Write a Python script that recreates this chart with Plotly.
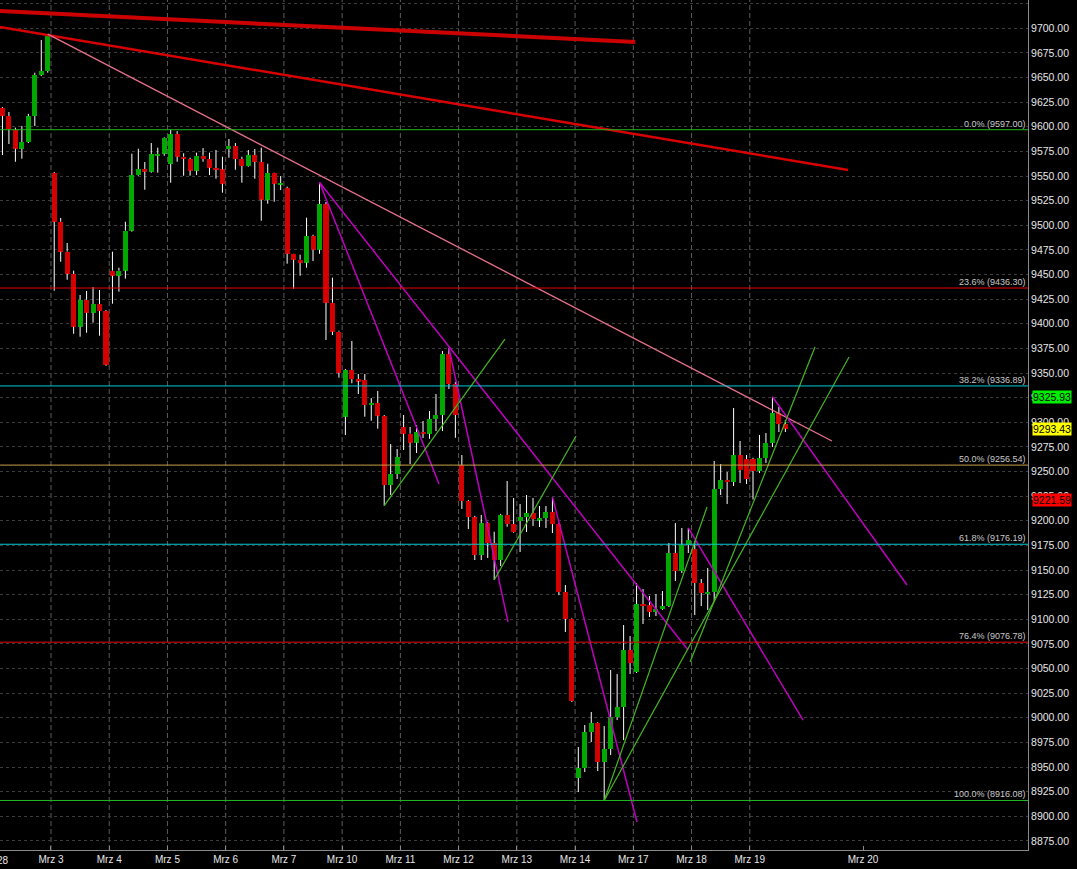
import plotly.graph_objects as go

# ---------------- data (hourly candles, index 1 = last visible candle of Feb 28) ----------------
opens = [9619.1, 9610.9, 9596.7, 9577.7, 9584.5, 9610.9, 9652.6, 9656.6,
         9553.1, 9503.6, 9473.2, 9450.5, 9397.0, 9424.4, 9411.2, 9420.1, 9413.0,
         9453.9, 9448.8, 9453.9, 9494.5, 9551.0, 9557.1, 9554.4, 9570.6, 9572.7,
         9562.5, 9592.7, 9569.6, 9567.3, 9555.4, 9570.6, 9567.3, 9558.1, 9556.8,
         9577.4, 9580.5, 9567.3, 9560.2, 9571.3, 9564.2, 9526.0, 9553.1, 9541.2,
         9537.8, 9471.1, 9465.1, 9462.0, 9489.1, 9475.2, 9521.6, 9421.4, 9392.0,
         9305.7, 9353.1, 9343.9, 9342.9, 9317.5, 9319.6, 9306.4, 9236.3, 9247.5,
         9295.2, 9288.4, 9279.3, 9290.1, 9288.4, 9303.3, 9307.4, 9369.3, 9338.9,
         9256.6, 9220.1, 9203.8, 9165.3, 9197.7, 9177.4, 9160.2, 9205.9, 9196.7,
         9199.8, 9203.8, 9207.9, 9200.8, 9202.8, 9208.9, 9196.7, 9127.7, 9100.3,
         8938.9, 8949.0, 8985.5, 8994.7, 8955.1, 8968.3, 9000.8, 9010.9, 9068.8,
         9046.5, 9115.5, 9114.5, 9107.4, 9110.4, 9113.5, 9167.3, 9149.0, 9175.4,
         9171.3, 9136.8, 9125.7, 9127.7, 9232.3, 9241.4, 9239.4, 9266.8, 9262.7,
         9262.7, 9250.5, 9263.7, 9279.0, 9309.4, 9298.2]
highs = [9620.1, 9615.0, 9599.1, 9600.8, 9613.0, 9654.9, 9688.1, 9694.0,
         9554.1, 9507.4, 9482.0, 9453.9, 9429.2, 9433.3, 9437.3, 9434.3, 9414.0,
         9473.2, 9456.9, 9503.6, 9572.7, 9577.7, 9564.2, 9583.5, 9578.8, 9589.6,
         9597.0, 9595.5, 9573.1, 9568.6, 9573.7, 9578.4, 9573.7, 9576.4, 9569.6,
         9587.6, 9583.5, 9569.6, 9576.4, 9577.4, 9578.8, 9562.5, 9553.4, 9550.0,
         9539.2, 9471.3, 9470.1, 9507.7, 9490.4, 9543.6, 9523.6, 9446.8, 9393.0,
         9354.1, 9382.5, 9349.0, 9349.0, 9324.6, 9331.8, 9307.4, 9277.9, 9272.9,
         9307.4, 9295.2, 9297.2, 9301.3, 9311.4, 9328.7, 9372.4, 9375.4, 9340.9,
         9266.8, 9221.0, 9205.0, 9205.9, 9198.5, 9188.9, 9207.0, 9240.4, 9223.1,
         9217.0, 9226.2, 9223.1, 9215.0, 9215.0, 9224.1, 9197.5, 9134.8, 9101.0,
         8970.3, 8992.7, 9005.9, 8995.5, 8991.6, 9048.5, 9044.4, 9094.2, 9083.0,
         9136.8, 9130.7, 9123.6, 9125.7, 9128.7, 9177.4, 9197.7, 9192.7, 9192.7,
         9179.5, 9140.9, 9152.1, 9260.7, 9257.6, 9249.5, 9314.5, 9281.0, 9266.8,
         9264.0, 9287.1, 9289.1, 9325.93, 9315.5, 9302.3]
lows = [9571.3, 9582.5, 9564.5, 9567.6, 9583.5, 9600.8, 9651.5, 9654.9,
        9433.6, 9463.0, 9444.7, 9389.9, 9386.9, 9390.9, 9401.1, 9387.9, 9357.4,
        9420.4, 9432.6, 9445.8, 9493.5, 9550.3, 9536.1, 9553.4, 9553.4, 9570.6,
        9543.2, 9564.5, 9550.3, 9550.3, 9551.0, 9564.5, 9551.0, 9547.3, 9533.1,
        9568.6, 9556.4, 9543.2, 9559.5, 9547.3, 9504.6, 9521.9, 9523.9, 9535.8,
        9461.0, 9435.6, 9448.8, 9456.9, 9463.7, 9471.1, 9383.5, 9388.6, 9345.3,
        9287.1, 9339.6, 9328.7, 9305.7, 9301.6, 9293.5, 9215.3, 9226.2, 9242.4,
        9271.9, 9257.6, 9268.8, 9284.0, 9283.3, 9291.1, 9291.1, 9333.8, 9284.3,
        9212.0, 9191.6, 9160.2, 9160.2, 9162.2, 9139.9, 9154.1, 9194.0, 9187.9,
        9168.3, 9188.6, 9194.7, 9193.7, 9192.7, 9187.6, 9124.6, 9087.1, 9016.0,
        8924.6, 8944.9, 8975.4, 8946.0, 8916.08, 8962.2, 8997.7, 8977.4, 9044.4,
        9045.5, 9095.2, 9102.3, 9103.3, 9109.4, 9112.5, 9138.9, 9147.0, 9167.3,
        9104.3, 9113.5, 9109.4, 9118.6, 9226.2, 9217.0, 9235.3, 9238.3, 9237.3,
        9221.59, 9248.5, 9258.7, 9274.9, 9290.1, 9290.1]
closes = [9611.2, 9597.7, 9577.7, 9584.5, 9610.9, 9652.6, 9656.6, 9692.2,
          9503.6, 9473.2, 9450.8, 9397.0, 9424.4, 9411.2, 9420.1, 9413.0, 9358.5,
          9448.8, 9453.9, 9494.5, 9551.0, 9557.1, 9554.4, 9572.4, 9572.4, 9588.9,
          9592.7, 9569.6, 9567.6, 9555.4, 9570.6, 9567.3, 9558.4, 9556.4, 9542.2,
          9580.5, 9567.3, 9560.2, 9571.3, 9564.5, 9526.0, 9553.1, 9542.2, 9542.9,
          9471.1, 9465.1, 9462.0, 9489.1, 9475.2, 9521.6, 9421.4, 9392.0, 9350.3,
          9353.1, 9343.9, 9341.9, 9317.5, 9319.6, 9306.7, 9236.3, 9247.5, 9264.7,
          9288.4, 9279.3, 9290.1, 9288.4, 9303.3, 9307.4, 9369.3, 9338.9, 9307.4,
          9220.1, 9203.8, 9165.3, 9197.7, 9177.4, 9160.2, 9205.9, 9196.7, 9188.6,
          9203.8, 9207.9, 9201.8, 9202.8, 9208.9, 9196.7, 9127.7, 9100.3, 9017.0,
          8949.0, 8985.5, 8994.7, 8955.1, 8968.3, 9000.8, 9010.9, 9068.8, 9055.6,
          9115.5, 9113.5, 9107.4, 9110.4, 9113.5, 9167.3, 9149.0, 9175.4, 9180.5,
          9136.8, 9126.7, 9127.7, 9232.3, 9241.4, 9239.4, 9266.8, 9251.5, 9242.4,
          9250.5, 9263.7, 9279.0, 9309.4, 9298.2, 9293.43]

candle_index = list(range(1, len(opens) + 1))
candles_per_day = 9

first_day_label = "Feb 28"
day_labels = ["Mrz 3", "Mrz 4", "Mrz 5", "Mrz 6", "Mrz 7", "Mrz 10", "Mrz 11",
              "Mrz 12", "Mrz 13", "Mrz 14", "Mrz 17", "Mrz 18", "Mrz 19"]
future_label = "Mrz 20"
future_label_pos = 134.0

fib_pct = [0.0, 23.6, 38.2, 50.0, 61.8, 76.4, 100.0]
fib_price = [9597.00, 9436.30, 9336.89, 9256.54, 9176.19, 9076.78, 8916.08]
fib_colors = ["#22b822", "#e80000", "#00c8d8", "#c8a048", "#00c8d8", "#e80000", "#22b822"]

# trendlines: (x0, y0, x1, y1) in candle index / price
thick_red = [(0, 9717.7, 98.8, 9686.1)]
red_lines = [(0, 9702.0, 131.7, 9556.1)]
pink_lines = [(8, 9694.0, 129.2, 9281.0)]
magenta_lines = [(50, 9543.6, 68.47, 9237.3),
                 (50, 9543.6, 106.96, 9068.8),
                 (70, 9375.4, 79.14, 9097.2),
                 (107, 9192.7, 124.73, 8997.7),
                 (86, 9224.1, 99.07, 8894.2),
                 (120, 9325.93, 140.8, 9134.8)]
green_lines = [(60, 9215.3, 78.67, 9384.5),
               (77, 9139.9, 89.65, 9286.1),
               (94, 8916.08, 109.89, 9214.0),
               (94, 8916.08, 131.84, 9366.3),
               (107.27, 9056.6, 126.58, 9376.4)]

price_tags = [(9325.93, "#00ee00"), (9293.43, "#ffff00"), (9221.59, "#ff0000")]

# ---------------- figure ----------------
FONT = "Liberation Sans, Arial, sans-serif"
UP, DOWN = "#00a800", "#d40000"
X_RANGE = [0.62, 159.5]
PLOT_W = 1077 - 49

fig = go.Figure()

# wicks (split so they do not cross the bodies)
wx, wy = [], []
for i, o, h, l, c in zip(candle_index, opens, highs, lows, closes):
    top, bot = max(o, c), min(o, c)
    wx += [i, i, None, i, i, None]
    wy += [h, top, None, bot, l, None]
fig.add_trace(go.Scatter(x=wx, y=wy, mode="lines",
                         line=dict(color="#ffffff", width=1), hoverinfo="skip"))

# bodies
fig.add_trace(go.Bar(
    x=candle_index,
    base=[min(o, c) for o, c in zip(opens, closes)],
    y=[max(abs(c - o), 0.8) for o, c in zip(opens, closes)],
    width=0.78,
    marker=dict(color=[UP if c >= o else DOWN for o, c in zip(opens, closes)],
                line=dict(width=0)),
    hoverinfo="skip"))

def add_lines(lines, color, width):
    for x0, y0, x1, y1 in lines:
        fig.add_trace(go.Scatter(x=[x0, x1], y=[y0, y1], mode="lines",
                                 line=dict(color=color, width=width), hoverinfo="skip"))

add_lines(thick_red, "#cc0000", 4)
add_lines(red_lines, "#d80000", 2.5)
add_lines(pink_lines, "#e8708c", 1.3)
add_lines(magenta_lines, "#c000c0", 1.5)
add_lines(green_lines, "#44b820", 1.2)

# day boundaries (between the last candle of a day and the first of the next)
day_bounds = [(d + 1) * candles_per_day - 0.5 for d in range(len(day_labels))]
first_bound = -0.5

shapes = []
for xb in day_bounds:
    shapes.append(dict(type="line", xref="x", yref="paper", x0=xb, x1=xb, y0=0, y1=1,
                       line=dict(color="#5c5c5c", width=1, dash="5px,3px"), layer="below"))
for p, col in zip(fib_price, fib_colors):
    shapes.append(dict(type="line", xref="paper", yref="y", x0=0, x1=1, y0=p, y1=p,
                       line=dict(color=col, width=1), layer="above"))

annotations = []
for pct, p in zip(fib_pct, fib_price):
    annotations.append(dict(xref="paper", yref="y", x=1, y=p, xanchor="right", yanchor="bottom",
                            text=f"{pct:.1f}% ({p:.2f})", showarrow=False, yshift=-1,
                            font=dict(family=FONT, size=9, color="#c8c8c8")))
for p, col in price_tags:
    annotations.append(dict(xref="paper", yref="y", x=1, y=p, xanchor="left", yanchor="middle",
                            xshift=4, text=f"{p:.2f}", showarrow=False, bgcolor=col,
                            borderpad=0, font=dict(family=FONT, size=10.5, color="#000000")))
# label of the partially visible first day (cut by the left edge of the page)
first_shift = (first_bound - X_RANGE[0]) / (X_RANGE[1] - X_RANGE[0]) * PLOT_W
annotations.append(dict(xref="paper", yref="paper", x=0, y=0, xanchor="center", yanchor="top",
                        xshift=first_shift, yshift=-3, text=first_day_label, showarrow=False,
                        font=dict(family=FONT, size=10, color="#e6e6e6")))

fig.update_layout(
    template="none",
    width=1077, height=869,
    margin=dict(l=0, r=49, t=0, b=19, pad=0),
    paper_bgcolor="#000000", plot_bgcolor="#000000",
    showlegend=False, hovermode=False, bargap=0,
    shapes=shapes, annotations=annotations,
    xaxis=dict(range=X_RANGE, tickmode="array",
               tickvals=day_bounds + [future_label_pos],
               ticktext=day_labels + [future_label], showgrid=False, zeroline=False,
               showline=True, linecolor="#8a8a8a", linewidth=1,
               ticks="inside", ticklen=4, tickcolor="#8a8a8a",
               tickfont=dict(family=FONT, size=10, color="#e6e6e6"), automargin=False),
    yaxis=dict(range=[8865.8, 9728.7], side="right", tick0=8875, dtick=25,
               tickformat=".2f", showgrid=True, gridcolor="#3c3c3c", griddash="3px,3px",
               gridwidth=1, zeroline=False, showline=True, linecolor="#8a8a8a", linewidth=1,
               ticks="", tickfont=dict(family=FONT, size=10.5, color="#e6e6e6"),
               automargin=False),
)

fig.write_html(
    "out.html",
    config={"displayModeBar": False},
    post_script="document.body.style.margin='0';document.body.style.background='#000';",
)
